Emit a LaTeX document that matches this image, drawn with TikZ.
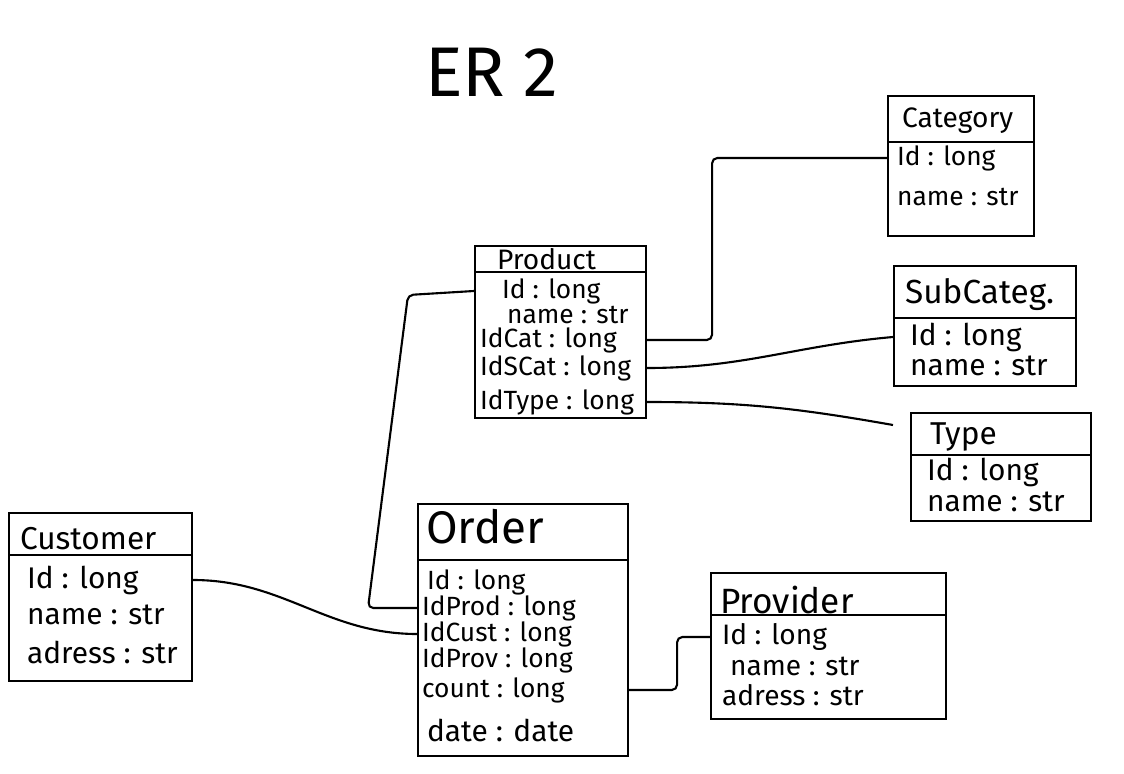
\documentclass[tikz,border=0pt]{standalone}
\usepackage{fontspec}
\setmainfont{Fira Sans}
\usetikzlibrary{positioning}

\begin{document}
\begin{tikzpicture}[x=0.02cm,y=-0.02cm,
        box/.style={draw,line width=1.2pt,inner sep=0pt,anchor=north west},
        head/.style={anchor=west,inner sep=1pt,font=\fontsize{16}{18}\selectfont},
        row/.style={anchor=west,inner sep=1pt,font=\fontsize{15}{17}\selectfont},
        bigrow/.style={row,font=\fontsize{17}{19}\selectfont},
        link/.style={line width=1.2pt,rounded corners=3pt}]
        \useasboundingbox (0,0) rectangle (1124,773);
        % title
        \node (title) [font=\fontsize{40}{44}\selectfont] at (492,72) {ER 2};
        % Product
        \node (prod) [box,minimum width=3.42cm,minimum height=3.44cm] at (474,245) {};
        \draw [line width=1.2pt] (prod.west |- 0,272) -- (prod.east |- 0,272);
        \node (prodT) [head] at (495,259) {Product};
        \node (pid) [row] at (500,291) {Id : long};
        \node (pname) [row] at (505,315) {name : str};
        \node (pcat) [row] at (478,340) {IdCat : long};
        \node (pscat) [row] at (478,368) {IdSCat : long};
        \node (ptype) [row] at (478,402) {IdType : long};
        % Category
        \node (cat) [box,minimum width=2.92cm,minimum height=2.8cm] at (887,95) {};
        \draw [line width=1.2pt] (cat.west |- 0,142) -- (cat.east |- 0,142);
        \node (catT) [head] at (900,121) {Category};
        \node (cid) [row] at (895,158) {Id : long};
        \node (cname) [row] at (895,197) {name : str};
        % SubCateg
        \node (scat) [box,minimum width=3.64cm,minimum height=2.4cm] at (893,265) {};
        \draw [line width=1.2pt] (scat.west |- 0,318) -- (scat.east |- 0,318);
        \node (scatT) [head,font=\fontsize{19}{21}\selectfont] at (903,295) {SubCateg.};
        \node (sid) [bigrow] at (908,337) {Id : long};
        \node (sname) [bigrow] at (908,366) {name : str};
        % Type
        \node (type) [box,minimum width=3.6cm,minimum height=2.16cm] at (910,412) {};
        \draw [line width=1.2pt] (type.west |- 0,455) -- (type.east |- 0,455);
        \node (typeT) [head,font=\fontsize{18}{20}\selectfont] at (928,437) {Type};
        \node (tid) [bigrow] at (925,472) {Id : long};
        \node (tname) [bigrow] at (925,502) {name : str};
        % Customer
        \node (cust) [box,minimum width=3.66cm,minimum height=3.36cm] at (8,512) {};
        \draw [line width=1.2pt] (cust.west |- 0,555) -- (cust.east |- 0,555);
        \node (custT) [head,font=\fontsize{18}{20}\selectfont] at (18,539) {Customer};
        \node (uid) [bigrow] at (25,580) {Id : long};
        \node (uname) [bigrow] at (25,615) {name : str};
        \node (uadr) [bigrow] at (25,652) {adress : str};
        % Order
        \node (ord) [box,minimum width=4.2cm,minimum height=5.04cm] at (417,503) {};
        \draw [line width=1.2pt] (ord.west |- 0,560) -- (ord.east |- 0,560);
        \node (ordT) [head,font=\fontsize{26}{28}\selectfont] at (424,527) {Order};
        \node (oid) [row] at (425,582) {Id : long};
        \node (oprod) [row] at (420,608) {IdProd : long};
        \node (ocust) [row] at (420,634) {IdCust : long};
        \node (oprov) [row] at (420,660) {IdProv : long};
        \node (ocount) [row] at (420,690) {count : long};
        \node (odate) [bigrow] at (425,730) {date : date};
        % Provider
        \node (prov) [box,minimum width=4.7cm,minimum height=2.92cm] at (710,572) {};
        \draw [line width=1.2pt] (prov.west |- 0,615) -- (prov.east |- 0,615);
        \node (provT) [head,font=\fontsize{20}{22}\selectfont] at (718,600) {Provider};
        \node (vid) [row,font=\fontsize{16}{18}\selectfont] at (720,637) {Id : long};
        \node (vname) [row,font=\fontsize{16}{18}\selectfont] at (728,666) {name : str};
        \node (vadr) [row,font=\fontsize{16}{18}\selectfont] at (720,695) {adress : str};
        % links
        \draw [link] (pcat -| prod.east) -- ++(65,0) |- (cid -| cat.west);
        \draw [link] (pscat -| prod.east) to[out=0,in=185] (sid -| scat.west);
        \draw [link] (ptype -| prod.east) to[out=0,in=170] ([xshift=-0.34cm,yshift=-0.26cm]type.north west);
        \draw [link] (oprod -| ord.west) -- ++(-49,0) -- ++(40,-313) -- (pid -| prod.west);
        \draw [link] (uid -| cust.east) to[out=0,in=180] (ocust -| ord.west);
        \draw [link] (ocount -| ord.east) -- ++(48,0) |- (vid -| prov.west);
\end{tikzpicture}
\end{document}
